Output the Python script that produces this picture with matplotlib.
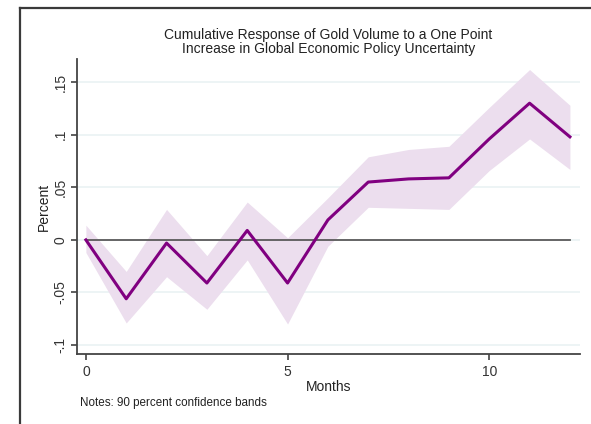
"""
Cumulative impulse response of gold volume to global EPU, with 90% bands.
"""

import matplotlib.pyplot as plt
from matplotlib.lines import Line2D

OUTPUT_PATH = "out.png"

months = [0, 1, 2, 3, 4, 5, 6, 7, 8, 9, 10, 11, 12]
response = [0.0, -0.056, -0.003, -0.041, 0.009, -0.041, 0.019,
            0.055, 0.058, 0.059, 0.096, 0.130, 0.098]
upper = [0.014, -0.030, 0.029, -0.015, 0.036, 0.002, 0.040,
         0.079, 0.086, 0.089, 0.126, 0.162, 0.128]
lower = [-0.012, -0.079, -0.035, -0.066, -0.019, -0.080, -0.006,
         0.031, 0.030, 0.029, 0.066, 0.096, 0.067]

y_ticks = [-0.1, -0.05, 0, 0.05, 0.1, 0.15]
y_tick_labels = ["-.1", "-.05", "0", ".05", ".1", ".15"]
x_ticks = [0, 5, 10]

TITLE = ("Cumulative Response of Gold Volume to a One Point\n"
         "Increase in Global Economic Policy Uncertainty")
NOTE = "Notes: 90 percent confidence bands"


def main():
    plt.rcParams["font.family"] = ["Liberation Sans", "DejaVu Sans"]

    fig = plt.figure(figsize=(5.91, 4.24), dpi=100)
    ax = fig.add_axes([0.1303, 0.1651, 0.8511, 0.6957])

    for y in y_ticks:
        ax.axhline(y, color="#eaf2f3", linewidth=1.2, zorder=0)

    ax.fill_between(months, lower, upper, color="#ecdeee", linewidth=0, zorder=1)
    ax.plot([months[0], months[-1]], [0, 0], color="#5a5a5a", linewidth=1.3, zorder=2)
    ax.plot(months, response, color="#800080", linewidth=2.2, zorder=3)

    ax.set_xlim(-0.22, 12.25)
    ax.set_ylim(-0.1085, 0.172)
    ax.set_xticks(x_ticks)
    ax.set_yticks(y_ticks)
    ax.set_yticklabels(y_tick_labels, rotation=90, va="center")

    for side in ("top", "right"):
        ax.spines[side].set_visible(False)
    for side in ("left", "bottom"):
        ax.spines[side].set_color("#444444")
        ax.spines[side].set_linewidth(1.3)
    ax.tick_params(colors="#333333", labelsize=10, length=4, width=1.1,
                   direction="out", pad=3)
    ax.tick_params(axis="x", pad=4)

    ax.set_ylabel("Percent", fontsize=10, color="#222222", labelpad=2)
    ax.set_xlabel("Months", fontsize=10, color="#222222", labelpad=0.5)
    ax.set_title(TITLE, fontsize=10, color="#222222", pad=4, linespacing=1.0)

    fig.text(0.135, 0.049, NOTE, fontsize=8.4, color="#222222", ha="left", va="center")

    # outer graph frame (cropped screenshot: only left and top edges visible)
    fig.add_artist(Line2D([0.033, 0.033], [0.0, 0.981], color="#3a3a3a",
                          linewidth=1.6, transform=fig.transFigure))
    fig.add_artist(Line2D([0.033, 1.0], [0.981, 0.981], color="#3a3a3a",
                          linewidth=1.6, transform=fig.transFigure))

    fig.savefig(OUTPUT_PATH, dpi=100)
    plt.close(fig)


if __name__ == "__main__":
    main()
